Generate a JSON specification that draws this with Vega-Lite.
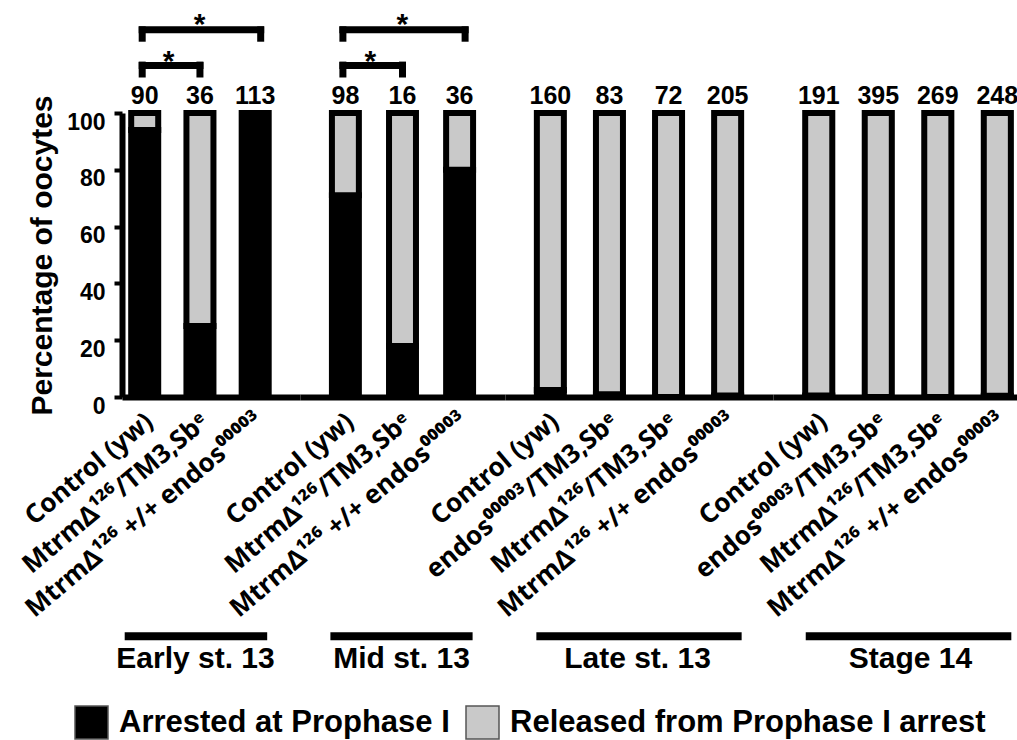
{
  "$schema": "https://vega.github.io/schema/vega-lite/v6.json",
  "autosize": "none",
  "padding": {"left": 122, "top": 113, "right": 895, "bottom": 627},
  "background": "white",
  "datasets": {
    "bars": [
      {"stage": "Early st. 13", "genotype": "Control (yw)", "status": "Arrested at Prophase I", "pct": 94, "n": 90},
      {"stage": "Early st. 13", "genotype": "Control (yw)", "status": "Released from Prophase I arrest", "pct": 6, "n": 90},
      {"stage": "Early st. 13", "genotype": "MtrmΔ¹²⁶/TM3,Sbᵉ", "status": "Arrested at Prophase I", "pct": 25, "n": 36},
      {"stage": "Early st. 13", "genotype": "MtrmΔ¹²⁶/TM3,Sbᵉ", "status": "Released from Prophase I arrest", "pct": 75, "n": 36},
      {"stage": "Early st. 13", "genotype": "MtrmΔ¹²⁶ +/+ endos⁰⁰⁰⁰³", "status": "Arrested at Prophase I", "pct": 100, "n": 113},
      {"stage": "Early st. 13", "genotype": "MtrmΔ¹²⁶ +/+ endos⁰⁰⁰⁰³", "status": "Released from Prophase I arrest", "pct": 0, "n": 113},
      {"stage": "Mid st. 13", "genotype": "Control (yw)", "status": "Arrested at Prophase I", "pct": 71, "n": 98},
      {"stage": "Mid st. 13", "genotype": "Control (yw)", "status": "Released from Prophase I arrest", "pct": 29, "n": 98},
      {"stage": "Mid st. 13", "genotype": "MtrmΔ¹²⁶/TM3,Sbᵉ", "status": "Arrested at Prophase I", "pct": 18, "n": 16},
      {"stage": "Mid st. 13", "genotype": "MtrmΔ¹²⁶/TM3,Sbᵉ", "status": "Released from Prophase I arrest", "pct": 82, "n": 16},
      {"stage": "Mid st. 13", "genotype": "MtrmΔ¹²⁶ +/+ endos⁰⁰⁰⁰³", "status": "Arrested at Prophase I", "pct": 80, "n": 36},
      {"stage": "Mid st. 13", "genotype": "MtrmΔ¹²⁶ +/+ endos⁰⁰⁰⁰³", "status": "Released from Prophase I arrest", "pct": 20, "n": 36},
      {"stage": "Late st. 13", "genotype": "Control (yw)", "status": "Arrested at Prophase I", "pct": 2.5, "n": 160},
      {"stage": "Late st. 13", "genotype": "Control (yw)", "status": "Released from Prophase I arrest", "pct": 97.5, "n": 160},
      {"stage": "Late st. 13", "genotype": "endos⁰⁰⁰⁰³/TM3,Sbᵉ", "status": "Arrested at Prophase I", "pct": 1, "n": 83},
      {"stage": "Late st. 13", "genotype": "endos⁰⁰⁰⁰³/TM3,Sbᵉ", "status": "Released from Prophase I arrest", "pct": 99, "n": 83},
      {"stage": "Late st. 13", "genotype": "MtrmΔ¹²⁶/TM3,Sbᵉ", "status": "Arrested at Prophase I", "pct": 0, "n": 72},
      {"stage": "Late st. 13", "genotype": "MtrmΔ¹²⁶/TM3,Sbᵉ", "status": "Released from Prophase I arrest", "pct": 100, "n": 72},
      {"stage": "Late st. 13", "genotype": "MtrmΔ¹²⁶ +/+ endos⁰⁰⁰⁰³", "status": "Arrested at Prophase I", "pct": 0.5, "n": 205},
      {"stage": "Late st. 13", "genotype": "MtrmΔ¹²⁶ +/+ endos⁰⁰⁰⁰³", "status": "Released from Prophase I arrest", "pct": 99.5, "n": 205},
      {"stage": "Stage 14", "genotype": "Control (yw)", "status": "Arrested at Prophase I", "pct": 0.5, "n": 191},
      {"stage": "Stage 14", "genotype": "Control (yw)", "status": "Released from Prophase I arrest", "pct": 99.5, "n": 191},
      {"stage": "Stage 14", "genotype": "endos⁰⁰⁰⁰³/TM3,Sbᵉ", "status": "Arrested at Prophase I", "pct": 0, "n": 395},
      {"stage": "Stage 14", "genotype": "endos⁰⁰⁰⁰³/TM3,Sbᵉ", "status": "Released from Prophase I arrest", "pct": 100, "n": 395},
      {"stage": "Stage 14", "genotype": "MtrmΔ¹²⁶/TM3,Sbᵉ", "status": "Arrested at Prophase I", "pct": 0, "n": 269},
      {"stage": "Stage 14", "genotype": "MtrmΔ¹²⁶/TM3,Sbᵉ", "status": "Released from Prophase I arrest", "pct": 100, "n": 269},
      {"stage": "Stage 14", "genotype": "MtrmΔ¹²⁶ +/+ endos⁰⁰⁰⁰³", "status": "Arrested at Prophase I", "pct": 0.4, "n": 248},
      {"stage": "Stage 14", "genotype": "MtrmΔ¹²⁶ +/+ endos⁰⁰⁰⁰³", "status": "Released from Prophase I arrest", "pct": 99.6, "n": 248}
    ],
    "brackets": [
      {"stage": "Early st. 13", "from": "Control (yw)", "to": "MtrmΔ¹²⁶/TM3,Sbᵉ", "level": "inner"},
      {"stage": "Early st. 13", "from": "Control (yw)", "to": "MtrmΔ¹²⁶ +/+ endos⁰⁰⁰⁰³", "level": "outer"},
      {"stage": "Mid st. 13", "from": "Control (yw)", "to": "MtrmΔ¹²⁶/TM3,Sbᵉ", "level": "inner"},
      {"stage": "Mid st. 13", "from": "Control (yw)", "to": "MtrmΔ¹²⁶ +/+ endos⁰⁰⁰⁰³", "level": "outer"}
    ],
    "groups": [
      {"stage": "Early st. 13", "first": "Control (yw)", "last": "MtrmΔ¹²⁶ +/+ endos⁰⁰⁰⁰³"},
      {"stage": "Mid st. 13", "first": "Control (yw)", "last": "MtrmΔ¹²⁶ +/+ endos⁰⁰⁰⁰³"},
      {"stage": "Late st. 13", "first": "Control (yw)", "last": "MtrmΔ¹²⁶ +/+ endos⁰⁰⁰⁰³"},
      {"stage": "Stage 14", "first": "Control (yw)", "last": "MtrmΔ¹²⁶ +/+ endos⁰⁰⁰⁰³"}
    ]
  },
  "hconcat": [
    {
      "width": 178, "height": 284,
      "layer": [
        {
          "data": {"name": "bars"},
          "transform": [{"filter": "datum.stage == 'Early st. 13'"}],
          "mark": {"type": "bar", "stroke": "black", "strokeWidth": 6},
          "encoding": {
            "x": {"field": "genotype", "type": "nominal",
              "scale": {"domain": ["Control (yw)", "MtrmΔ¹²⁶/TM3,Sbᵉ", "MtrmΔ¹²⁶ +/+ endos⁰⁰⁰⁰³"], "paddingInner": 0.511, "paddingOuter": 0.3665, "align": 0.227},
              "axis": {"title": "Early st. 13", "titleX": 73, "labelAngle": -40, "labelAlign": "right", "labelBaseline": "middle", "labelPadding": 21, "labelOffset": 5}},
            "y": {"field": "pct", "type": "quantitative", "stack": "zero",
              "scale": {"domain": [0, 100], "nice": false},
              "axis": {"values": [0, 20, 40, 60, 80, 100], "title": "Percentage of oocytes"}},
            "color": {"field": "status", "type": "nominal",
              "scale": {"domain": ["Arrested at Prophase I", "Released from Prophase I arrest"], "range": ["#000000", "#c9c9c9"]},
              "legend": {"orient": "none", "legendX": -48, "legendY": 592, "direction": "horizontal", "title": null}},
            "order": {"field": "status", "sort": "ascending"}
          }
        },
        {
          "data": {"name": "bars"},
          "transform": [{"filter": "datum.stage == 'Early st. 13' && datum.status == 'Arrested at Prophase I'"}],
          "mark": {"type": "text", "fontSize": 25, "fontWeight": "bold", "baseline": "alphabetic", "dy": -9},
          "encoding": {
            "x": {"field": "genotype", "type": "nominal"},
            "y": {"datum": 100, "type": "quantitative"},
            "text": {"field": "n", "type": "quantitative"}
          }
        },
        {
          "data": {"name": "groups"},
          "transform": [{"filter": "datum.stage == 'Early st. 13'"}],
          "mark": {"type": "rule", "strokeWidth": 8, "color": "black", "xOffset": -20, "x2Offset": 12},
          "encoding": {
            "x": {"field": "first", "type": "nominal"},
            "x2": {"field": "last"},
            "y": {"datum": -84.2, "type": "quantitative"}
          }
        },
        {
          "data": {"name": "brackets"},
          "transform": [{"filter": "datum.stage == 'Early st. 13' && datum.level == 'outer'"}],
          "mark": {"type": "rule", "strokeWidth": 7, "color": "black", "xOffset": -6, "x2Offset": 9},
          "encoding": {
            "x": {"field": "from", "type": "nominal"},
            "x2": {"field": "to"},
            "y": {"datum": 129.3, "type": "quantitative"}
          }
        },
        {
          "data": {"name": "brackets"},
          "transform": [{"filter": "datum.stage == 'Early st. 13' && datum.level == 'outer'"}],
          "mark": {"type": "rule", "strokeWidth": 7, "color": "black", "xOffset": -2.5},
          "encoding": {
            "x": {"field": "from", "type": "nominal"},
            "y": {"datum": 130.5, "type": "quantitative"},
            "y2": {"datum": 125.1}
          }
        },
        {
          "data": {"name": "brackets"},
          "transform": [{"filter": "datum.stage == 'Early st. 13' && datum.level == 'outer'"}],
          "mark": {"type": "rule", "strokeWidth": 7, "color": "black", "xOffset": 5.5},
          "encoding": {
            "x": {"field": "to", "type": "nominal"},
            "y": {"datum": 130.5, "type": "quantitative"},
            "y2": {"datum": 125.1}
          }
        },
        {
          "data": {"name": "brackets"},
          "transform": [{"filter": "datum.stage == 'Early st. 13' && datum.level == 'inner'"}],
          "mark": {"type": "rule", "strokeWidth": 7, "color": "black", "xOffset": -6, "x2Offset": 3.5},
          "encoding": {
            "x": {"field": "from", "type": "nominal"},
            "x2": {"field": "to"},
            "y": {"datum": 116.7, "type": "quantitative"}
          }
        },
        {
          "data": {"name": "brackets"},
          "transform": [{"filter": "datum.stage == 'Early st. 13' && datum.level == 'inner'"}],
          "mark": {"type": "rule", "strokeWidth": 7, "color": "black", "xOffset": -2.5},
          "encoding": {
            "x": {"field": "from", "type": "nominal"},
            "y": {"datum": 118.1, "type": "quantitative"},
            "y2": {"datum": 112.5}
          }
        },
        {
          "data": {"name": "brackets"},
          "transform": [{"filter": "datum.stage == 'Early st. 13' && datum.level == 'inner'"}],
          "mark": {"type": "rule", "strokeWidth": 7, "color": "black", "xOffset": 0},
          "encoding": {
            "x": {"field": "to", "type": "nominal"},
            "y": {"datum": 118.1, "type": "quantitative"},
            "y2": {"datum": 112.5}
          }
        },
        {
          "data": {"name": "brackets"},
          "transform": [{"filter": "datum.stage == 'Early st. 13' && datum.level == 'outer'"}],
          "mark": {"type": "text", "text": "*", "fontSize": 30, "fontWeight": "bold", "baseline": "alphabetic", "dx": 55},
          "encoding": {
            "x": {"field": "from", "type": "nominal"},
            "y": {"datum": 127.8, "type": "quantitative"}
          }
        },
        {
          "data": {"name": "brackets"},
          "transform": [{"filter": "datum.stage == 'Early st. 13' && datum.level == 'inner'"}],
          "mark": {"type": "text", "text": "*", "fontSize": 30, "fontWeight": "bold", "baseline": "alphabetic", "dx": 24},
          "encoding": {
            "x": {"field": "from", "type": "nominal"},
            "y": {"datum": 114.8, "type": "quantitative"}
          }
        }
      ]
    },
    {
      "width": 205, "height": 284,
      "layer": [
        {
          "data": {"name": "bars"},
          "transform": [{"filter": "datum.stage == 'Mid st. 13'"}],
          "mark": {"type": "bar", "stroke": "black", "strokeWidth": 6},
          "encoding": {
            "x": {"field": "genotype", "type": "nominal",
              "scale": {"domain": ["Control (yw)", "MtrmΔ¹²⁶/TM3,Sbᵉ", "MtrmΔ¹²⁶ +/+ endos⁰⁰⁰⁰³"], "paddingInner": 0.528, "paddingOuter": 0.559, "align": 0.5},
              "axis": {"title": "Mid st. 13", "titleX": 101, "labelAngle": -40, "labelAlign": "right", "labelBaseline": "middle", "labelPadding": 21, "labelOffset": 5}},
            "y": {"field": "pct", "type": "quantitative", "stack": "zero",
              "scale": {"domain": [0, 100], "nice": false}, "axis": null},
            "color": {"field": "status", "type": "nominal",
              "scale": {"domain": ["Arrested at Prophase I", "Released from Prophase I arrest"], "range": ["#000000", "#c9c9c9"]}},
            "order": {"field": "status", "sort": "ascending"}
          }
        },
        {
          "data": {"name": "bars"},
          "transform": [{"filter": "datum.stage == 'Mid st. 13' && datum.status == 'Arrested at Prophase I'"}],
          "mark": {"type": "text", "fontSize": 25, "fontWeight": "bold", "baseline": "alphabetic", "dy": -9},
          "encoding": {
            "x": {"field": "genotype", "type": "nominal"},
            "y": {"datum": 100, "type": "quantitative"},
            "text": {"field": "n", "type": "quantitative"}
          }
        },
        {
          "data": {"name": "groups"},
          "transform": [{"filter": "datum.stage == 'Mid st. 13'"}],
          "mark": {"type": "rule", "strokeWidth": 8, "color": "black", "xOffset": -15, "x2Offset": 13},
          "encoding": {
            "x": {"field": "first", "type": "nominal"},
            "x2": {"field": "last"},
            "y": {"datum": -84.2, "type": "quantitative"}
          }
        },
        {
          "data": {"name": "brackets"},
          "transform": [{"filter": "datum.stage == 'Mid st. 13' && datum.level == 'outer'"}],
          "mark": {"type": "rule", "strokeWidth": 7, "color": "black", "xOffset": -6, "x2Offset": 9},
          "encoding": {
            "x": {"field": "from", "type": "nominal"},
            "x2": {"field": "to"},
            "y": {"datum": 129.3, "type": "quantitative"}
          }
        },
        {
          "data": {"name": "brackets"},
          "transform": [{"filter": "datum.stage == 'Mid st. 13' && datum.level == 'outer'"}],
          "mark": {"type": "rule", "strokeWidth": 7, "color": "black", "xOffset": -2.5},
          "encoding": {
            "x": {"field": "from", "type": "nominal"},
            "y": {"datum": 130.5, "type": "quantitative"},
            "y2": {"datum": 125.1}
          }
        },
        {
          "data": {"name": "brackets"},
          "transform": [{"filter": "datum.stage == 'Mid st. 13' && datum.level == 'outer'"}],
          "mark": {"type": "rule", "strokeWidth": 7, "color": "black", "xOffset": 5.5},
          "encoding": {
            "x": {"field": "to", "type": "nominal"},
            "y": {"datum": 130.5, "type": "quantitative"},
            "y2": {"datum": 125.1}
          }
        },
        {
          "data": {"name": "brackets"},
          "transform": [{"filter": "datum.stage == 'Mid st. 13' && datum.level == 'inner'"}],
          "mark": {"type": "rule", "strokeWidth": 7, "color": "black", "xOffset": -6, "x2Offset": 3.5},
          "encoding": {
            "x": {"field": "from", "type": "nominal"},
            "x2": {"field": "to"},
            "y": {"datum": 116.7, "type": "quantitative"}
          }
        },
        {
          "data": {"name": "brackets"},
          "transform": [{"filter": "datum.stage == 'Mid st. 13' && datum.level == 'inner'"}],
          "mark": {"type": "rule", "strokeWidth": 7, "color": "black", "xOffset": -2.5},
          "encoding": {
            "x": {"field": "from", "type": "nominal"},
            "y": {"datum": 118.1, "type": "quantitative"},
            "y2": {"datum": 112.5}
          }
        },
        {
          "data": {"name": "brackets"},
          "transform": [{"filter": "datum.stage == 'Mid st. 13' && datum.level == 'inner'"}],
          "mark": {"type": "rule", "strokeWidth": 7, "color": "black", "xOffset": 0},
          "encoding": {
            "x": {"field": "to", "type": "nominal"},
            "y": {"datum": 118.1, "type": "quantitative"},
            "y2": {"datum": 112.5}
          }
        },
        {
          "data": {"name": "brackets"},
          "transform": [{"filter": "datum.stage == 'Mid st. 13' && datum.level == 'outer'"}],
          "mark": {"type": "text", "text": "*", "fontSize": 30, "fontWeight": "bold", "baseline": "alphabetic", "dx": 57},
          "encoding": {
            "x": {"field": "from", "type": "nominal"},
            "y": {"datum": 127.8, "type": "quantitative"}
          }
        },
        {
          "data": {"name": "brackets"},
          "transform": [{"filter": "datum.stage == 'Mid st. 13' && datum.level == 'inner'"}],
          "mark": {"type": "text", "text": "*", "fontSize": 30, "fontWeight": "bold", "baseline": "alphabetic", "dx": 25},
          "encoding": {
            "x": {"field": "from", "type": "nominal"},
            "y": {"datum": 114.8, "type": "quantitative"}
          }
        }
      ]
    },
    {
      "width": 268, "height": 284,
      "layer": [
        {
          "data": {"name": "bars"},
          "transform": [{"filter": "datum.stage == 'Late st. 13'"}],
          "mark": {"type": "bar", "stroke": "black", "strokeWidth": 6},
          "encoding": {
            "x": {"field": "genotype", "type": "nominal",
              "scale": {"domain": ["Control (yw)", "endos⁰⁰⁰⁰³/TM3,Sbᵉ", "MtrmΔ¹²⁶/TM3,Sbᵉ", "MtrmΔ¹²⁶ +/+ endos⁰⁰⁰⁰³"], "paddingInner": 0.543, "paddingOuter": 0.539, "align": 0.5},
              "axis": {"title": "Late st. 13", "titleX": 132, "labelAngle": -40, "labelAlign": "right", "labelBaseline": "middle", "labelPadding": 21, "labelOffset": 5}},
            "y": {"field": "pct", "type": "quantitative", "stack": "zero",
              "scale": {"domain": [0, 100], "nice": false}, "axis": null},
            "color": {"field": "status", "type": "nominal",
              "scale": {"domain": ["Arrested at Prophase I", "Released from Prophase I arrest"], "range": ["#000000", "#c9c9c9"]}},
            "order": {"field": "status", "sort": "ascending"}
          }
        },
        {
          "data": {"name": "bars"},
          "transform": [{"filter": "datum.stage == 'Late st. 13' && datum.status == 'Arrested at Prophase I'"}],
          "mark": {"type": "text", "fontSize": 25, "fontWeight": "bold", "baseline": "alphabetic", "dy": -9},
          "encoding": {
            "x": {"field": "genotype", "type": "nominal"},
            "y": {"datum": 100, "type": "quantitative"},
            "text": {"field": "n", "type": "quantitative"}
          }
        },
        {
          "data": {"name": "groups"},
          "transform": [{"filter": "datum.stage == 'Late st. 13'"}],
          "mark": {"type": "rule", "strokeWidth": 8, "color": "black", "xOffset": -14, "x2Offset": 14},
          "encoding": {
            "x": {"field": "first", "type": "nominal"},
            "x2": {"field": "last"},
            "y": {"datum": -84.2, "type": "quantitative"}
          }
        }
      ]
    },
    {
      "width": 244, "height": 284,
      "layer": [
        {
          "data": {"name": "bars"},
          "transform": [{"filter": "datum.stage == 'Stage 14'"}],
          "mark": {"type": "bar", "stroke": "black", "strokeWidth": 6},
          "encoding": {
            "x": {"field": "genotype", "type": "nominal",
              "scale": {"domain": ["Control (yw)", "endos⁰⁰⁰⁰³/TM3,Sbᵉ", "MtrmΔ¹²⁶/TM3,Sbᵉ", "MtrmΔ¹²⁶ +/+ endos⁰⁰⁰⁰³"], "paddingInner": 0.545, "paddingOuter": 0.322, "align": 0.84},
              "axis": {"title": "Stage 14", "titleX": 137, "labelAngle": -40, "labelAlign": "right", "labelBaseline": "middle", "labelPadding": 21, "labelOffset": 5}},
            "y": {"field": "pct", "type": "quantitative", "stack": "zero",
              "scale": {"domain": [0, 100], "nice": false}, "axis": null},
            "color": {"field": "status", "type": "nominal",
              "scale": {"domain": ["Arrested at Prophase I", "Released from Prophase I arrest"], "range": ["#000000", "#c9c9c9"]}},
            "order": {"field": "status", "sort": "ascending"}
          }
        },
        {
          "data": {"name": "bars"},
          "transform": [{"filter": "datum.stage == 'Stage 14' && datum.status == 'Arrested at Prophase I'"}],
          "mark": {"type": "text", "fontSize": 25, "fontWeight": "bold", "baseline": "alphabetic", "dy": -9},
          "encoding": {
            "x": {"field": "genotype", "type": "nominal"},
            "y": {"datum": 100, "type": "quantitative"},
            "text": {"field": "n", "type": "quantitative"}
          }
        },
        {
          "data": {"name": "groups"},
          "transform": [{"filter": "datum.stage == 'Stage 14'"}],
          "mark": {"type": "rule", "strokeWidth": 8, "color": "black", "xOffset": -13, "x2Offset": 14},
          "encoding": {
            "x": {"field": "first", "type": "nominal"},
            "x2": {"field": "last"},
            "y": {"datum": -84.2, "type": "quantitative"}
          }
        }
      ]
    }
  ],
  "spacing": 0,
  "bounds": "flush",
  "resolve": {
    "scale": {"x": "independent", "y": "independent", "color": "shared"},
    "axis": {"x": "independent", "y": "independent"},
    "legend": {"color": "shared"}
  },
  "config": {
    "font": "Liberation Sans",
    "view": {"stroke": null},
    "axis": {
      "labelFont": "Liberation Sans", "labelFontWeight": "bold", "labelColor": "black",
      "titleFont": "Liberation Sans", "titleFontWeight": "bold", "titleColor": "black",
      "domainColor": "black", "tickColor": "black", "grid": false
    },
    "axisX": {
      "domainWidth": 6, "ticks": false, "labelFont": "Noto Sans",
      "labelFontSize": 26, "labelLimit": 1000,
      "labelOverlap": false, "labelBound": false, "labelFlush": false,
      "titleFontSize": 30, "titleBaseline": "alphabetic", "titleY": 270, "titleAlign": "center"
    },
    "axisY": {
      "domainWidth": 6, "tickSize": 8, "tickWidth": 4, "labelFontSize": 23, "labelPadding": 9, "labelOffset": 9,
      "titleFontSize": 30, "titlePadding": 9
    },
    "legend": {
      "labelFont": "Liberation Sans", "labelFontWeight": "bold", "labelFontSize": 31, "labelColor": "black",
      "labelLimit": 1000, "symbolType": "square", "symbolSize": 1089, "symbolStrokeWidth": 1.5,
      "symbolStrokeColor": "#555555", "labelOffset": 10, "columnPadding": 13, "padding": 0, "symbolOpacity": 1
    },
    "text": {"font": "Liberation Sans", "fontWeight": "bold", "color": "black"}
  }
}
